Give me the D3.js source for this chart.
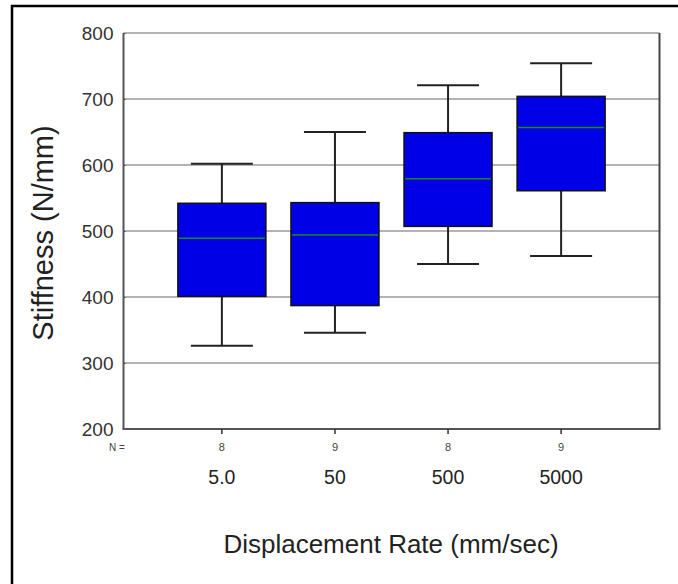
<!DOCTYPE html>
<html><head><meta charset="utf-8">
<script src="https://cdn.jsdelivr.net/npm/d3@7"></script>
<style>body{margin:0;background:#fff;}svg{display:block;}</style>
</head><body>
<script>
const categories = ["5.0", "50", "500", "5000"];
const nCounts = ["8", "9", "8", "9"];
const whiskerLow = [326, 346, 450, 462];
const q1 = [401, 387, 507, 561];
const median = [489, 494, 579, 657];
const q3 = [542, 543, 649, 704];
const whiskerHigh = [602, 650, 721, 754];
const yTicks = [200, 300, 400, 500, 600, 700, 800];

(function () {
const W = 678, H = 584;
const svg = d3.select("body").append("svg").attr("width", W).attr("height", H);
svg.append("rect").attr("width", W).attr("height", H).attr("fill", "#fff");
// outer frame
svg.append("path").attr("d", "M12,600 L12,6 L700,6").attr("fill", "none").attr("stroke", "#000").attr("stroke-width", 2.5);

const pLeft = 123.5, pRight = 659.5, pTop = 33, pBottom = 429;
const y = d3.scaleLinear().domain([200, 800]).range([pBottom, pTop]);
const x = d3.scalePoint().domain(categories).range([pLeft, pRight]).padding(0.87);
const font = "Liberation Sans, Arial, sans-serif";

// gridlines
svg.append("g").selectAll("line").data(yTicks.filter(d => d > 200)).join("line")
  .attr("x1", pLeft).attr("x2", pRight)
  .attr("y1", d => y(d)).attr("y2", d => y(d))
  .attr("stroke", "#9a9a9a").attr("stroke-width", 1.5);

// axes
const yAxis = svg.append("g").attr("transform", `translate(${pLeft},0)`)
  .call(d3.axisLeft(y).tickValues(yTicks).tickSize(3).tickPadding(7));
yAxis.select(".domain").remove();
yAxis.selectAll("line").attr("stroke", "#444").attr("x2", 2);
yAxis.selectAll("text").attr("font-family", font)
  .attr("font-size", 19).attr("fill", "#333");

svg.append("line").attr("x1", pLeft).attr("x2", pLeft).attr("y1", pTop).attr("y2", pBottom)
  .attr("stroke", "#555").attr("stroke-width", 2);
svg.append("line").attr("x1", pRight).attr("x2", pRight).attr("y1", pTop).attr("y2", pBottom)
  .attr("stroke", "#444").attr("stroke-width", 2);
svg.append("line").attr("x1", pLeft - 1).attr("x2", pRight + 1).attr("y1", pBottom).attr("y2", pBottom)
  .attr("stroke", "#555").attr("stroke-width", 2);

// x ticks
svg.append("g").selectAll("line").data(categories).join("line")
  .attr("x1", d => x(d)).attr("x2", d => x(d))
  .attr("y1", pBottom).attr("y2", pBottom + 5)
  .attr("stroke", "#333").attr("stroke-width", 1.5);

// boxes
const bw = 88, cw = 62;
const g = svg.append("g");
categories.forEach((c, i) => {
  const cx = x(c);
  g.append("line").attr("x1", cx).attr("x2", cx).attr("y1", y(whiskerHigh[i])).attr("y2", y(q3[i]))
    .attr("stroke", "#222").attr("stroke-width", 2);
  g.append("line").attr("x1", cx).attr("x2", cx).attr("y1", y(q1[i])).attr("y2", y(whiskerLow[i]))
    .attr("stroke", "#222").attr("stroke-width", 2);
  g.append("line").attr("x1", cx - cw / 2).attr("x2", cx + cw / 2).attr("y1", y(whiskerHigh[i])).attr("y2", y(whiskerHigh[i]))
    .attr("stroke", "#222").attr("stroke-width", 2);
  g.append("line").attr("x1", cx - cw / 2).attr("x2", cx + cw / 2).attr("y1", y(whiskerLow[i])).attr("y2", y(whiskerLow[i]))
    .attr("stroke", "#222").attr("stroke-width", 2);
  g.append("rect").attr("x", cx - bw / 2).attr("width", bw)
    .attr("y", y(q3[i])).attr("height", y(q1[i]) - y(q3[i]))
    .attr("fill", "#0000e6").attr("stroke", "#111").attr("stroke-width", 1.5);
  g.append("line").attr("x1", cx - bw / 2 + 1).attr("x2", cx + bw / 2 - 1).attr("y1", y(median[i])).attr("y2", y(median[i]))
    .attr("stroke", "#1a8a1a").attr("stroke-width", 1.5);
});

// N labels
svg.append("text").attr("x", 117).attr("y", 451).attr("text-anchor", "middle")
  .attr("font-family", font).attr("font-size", 10).attr("fill", "#444").text("N =");
svg.append("g").selectAll("text").data(categories).join("text")
  .attr("x", d => x(d)).attr("y", 451).attr("text-anchor", "middle")
  .attr("font-family", font).attr("font-size", 11).attr("fill", "#444")
  .text((d, i) => nCounts[i]);
// category labels
svg.append("g").selectAll("text").data(categories).join("text")
  .attr("x", d => x(d)).attr("y", 484).attr("text-anchor", "middle")
  .attr("font-family", font).attr("font-size", 19.5).attr("fill", "#222")
  .text(d => d);

// axis titles
svg.append("text").attr("x", 391).attr("y", 553).attr("text-anchor", "middle")
  .attr("font-family", font).attr("font-size", 26).attr("fill", "#222")
  .text("Displacement Rate (mm/sec)");
svg.append("text").attr("transform", "translate(53,233) rotate(-90)").attr("text-anchor", "middle")
  .attr("font-family", font).attr("font-size", 29).attr("fill", "#222")
  .text("Stiffness (N/mm)");
})();
</script>
</body></html>
